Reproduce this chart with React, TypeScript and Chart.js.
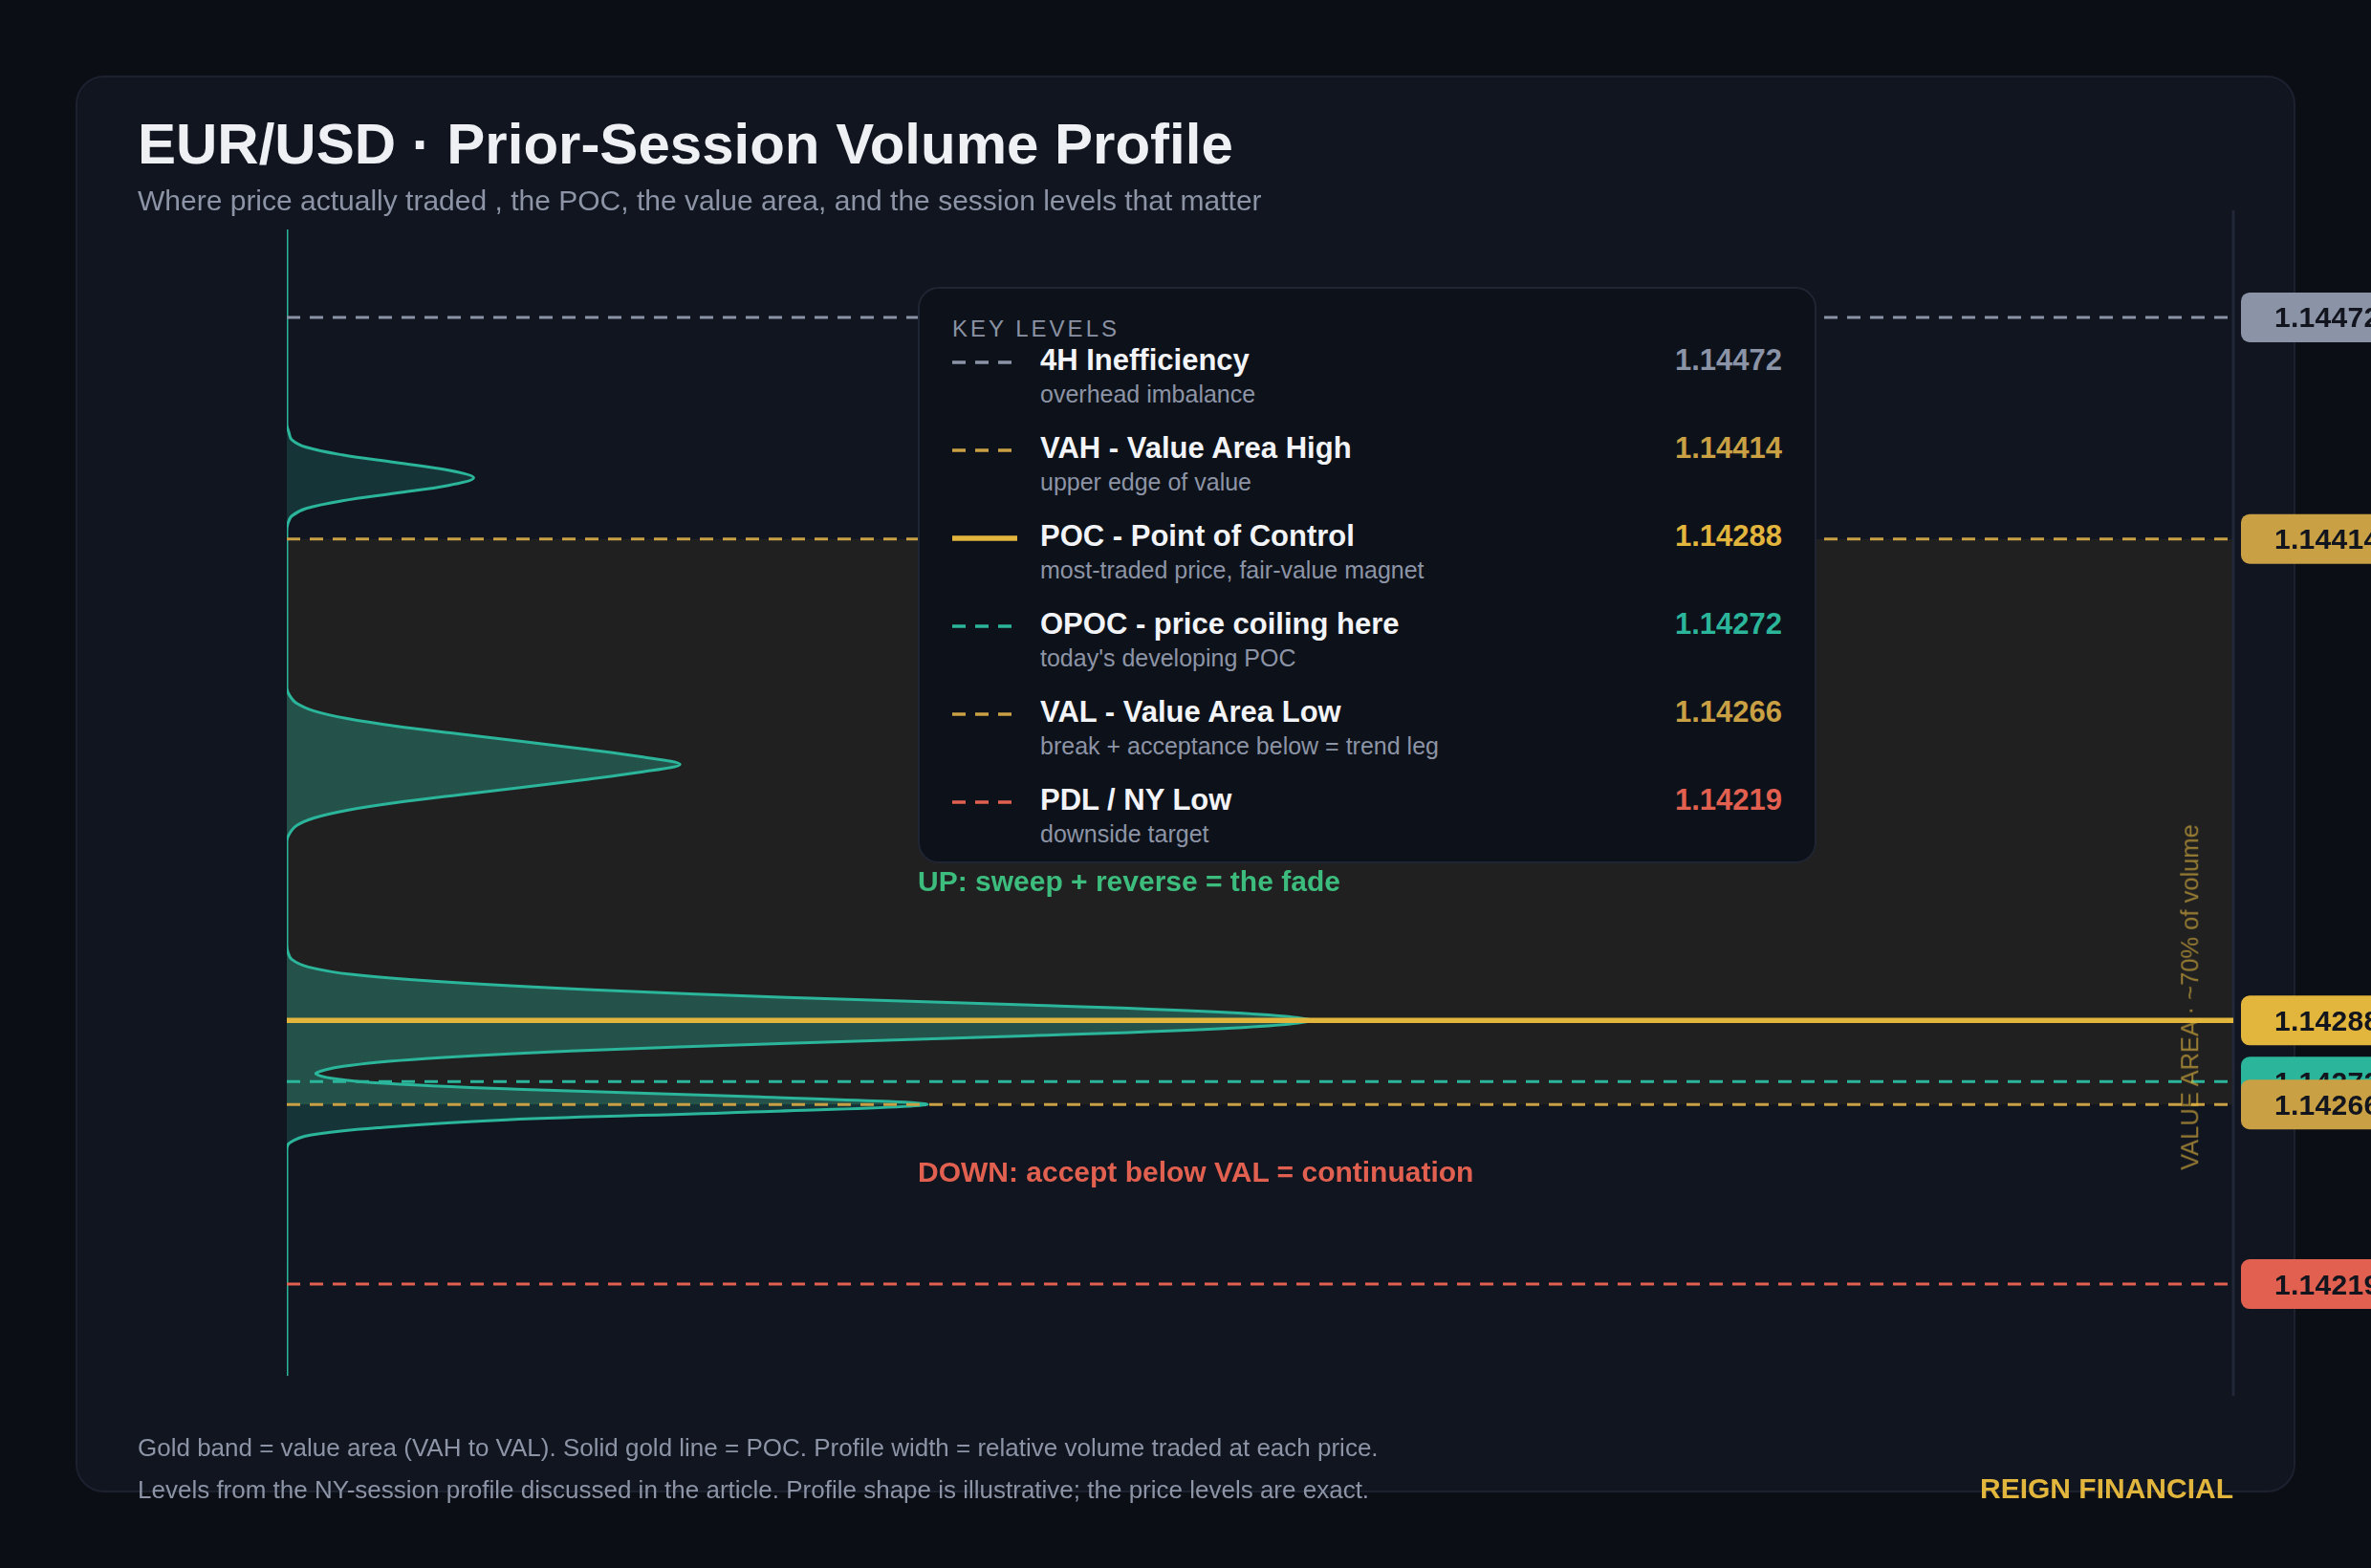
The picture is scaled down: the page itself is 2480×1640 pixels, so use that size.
import React, { useEffect, useRef } from 'react';
import { Chart, registerables } from 'chart.js';

Chart.register(...registerables);

const FONT = '"Liberation Sans", Arial, Helvetica, sans-serif';

// ---- Key levels ----
const levelNames = [
  '4H Inefficiency',
  'VAH - Value Area High',
  'POC - Point of Control',
  'OPOC - price coiling here',
  'VAL - Value Area Low',
  'PDL / NY Low',
];
const levelNotes = [
  'overhead imbalance',
  'upper edge of value',
  'most-traded price, fair-value magnet',
  "today's developing POC",
  'break + acceptance below = trend leg',
  'downside target',
];
const levelPrices = [1.14472, 1.14414, 1.14288, 1.14272, 1.14266, 1.14219];
const levelColors = ['#8b93a7', '#c9a043', '#e2b53d', '#2bb59a', '#c9a043', '#e2604f'];
const levelDashed = [true, true, false, true, true, true];

const valueAreaHigh = 1.14414;
const valueAreaLow = 1.14266;

// ---- Volume profile (price -> relative volume) ----
const profilePrices = [
  1.14495, 1.14444, 1.14442, 1.1444, 1.14438, 1.14436, 1.14434, 1.14432, 1.1443, 1.14428,
  1.14426, 1.14424, 1.14422, 1.1442, 1.14418, 1.14416,
  1.14375, 1.14373, 1.14371, 1.14369, 1.14367, 1.14365, 1.14363, 1.14361, 1.14359, 1.14357,
  1.14355, 1.14353, 1.14351, 1.14349, 1.14347, 1.14345, 1.14343, 1.14341, 1.14339, 1.14337,
  1.14335,
  1.14308, 1.14306, 1.14304, 1.14302, 1.143, 1.14298, 1.14296, 1.14294, 1.14292, 1.1429,
  1.14288, 1.14286, 1.14284, 1.14282, 1.1428, 1.14278, 1.14276, 1.14274, 1.14272, 1.1427,
  1.14268, 1.14266, 1.14264, 1.14262, 1.1426, 1.14258, 1.14256, 1.14254,
  1.14195,
];
const profileVolumes = [
  0, 0, 0.1, 0.25, 1.0, 2.85, 5.6, 8.3, 9.6, 8.3,
  5.6, 2.85, 1.0, 0.25, 0.05, 0,
  0, 0.15, 0.5, 1.4, 3.1, 5.6, 8.8, 12.1, 15.3, 18.2,
  20.2, 18.2, 15.3, 12.1, 8.8, 5.6, 3.1, 1.4, 0.5, 0.15,
  0,
  0, 0.05, 0.25, 1.1, 3.4, 8.3, 15.7, 25.7, 38.3, 48.6,
  52.7, 48.6, 38.3, 25.7, 14.6, 7.1, 2.9, 1.5, 3.7, 11.8,
  24.3, 32.9, 23.6, 11.3, 4.9, 1.2, 0.15, 0,
  0,
];

const priceMin = 1.14195;
const priceMax = 1.14495;
const volumeMin = 0;
const volumeMax = 100;

const titleText = 'EUR/USD · Prior-Session Volume Profile';
const subtitleText =
  'Where price actually traded , the POC, the value area, and the session levels that matter';
const upText = 'UP: sweep + reverse = the fade';
const downText = 'DOWN: accept below VAL = continuation';
const valueAreaText = 'VALUE AREA · ~70% of volume';
const footer1 =
  'Gold band = value area (VAH to VAL). Solid gold line = POC. Profile width = relative volume traded at each price.';
const footer2 =
  'Levels from the NY-session profile discussed in the article. Profile shape is illustrative; the price levels are exact.';
const brandText = 'REIGN FINANCIAL';

type TProps = {
  x: number;
  baseline: number;
  size: number;
  weight?: number;
  color: string;
  align?: 'left' | 'right';
  ls?: number;
  children: React.ReactNode;
};

function T({ x, baseline, size, weight = 400, color, align = 'left', ls = 0, children }: TProps) {
  const top = baseline - 0.8465 * size;
  const style: React.CSSProperties = {
    position: 'absolute',
    top,
    fontSize: size,
    lineHeight: `${size}px`,
    fontWeight: weight,
    color,
    whiteSpace: 'nowrap',
    letterSpacing: ls,
    fontFamily: FONT,
  };
  if (align === 'left') style.left = x;
  else style.right = 2480 - x;
  return <div style={style}>{children}</div>;
}

function Swatch({ x, y, color, dashed }: { x: number; y: number; color: string; dashed: boolean }) {
  return (
    <svg
      width={70}
      height={10}
      style={{ position: 'absolute', left: x, top: y - 5 }}
    >
      {dashed ? (
        <line x1={0} y1={5} x2={62} y2={5} stroke={color} strokeWidth={3.5} strokeDasharray="14 10" />
      ) : (
        <line x1={0} y1={5} x2={68} y2={5} stroke={color} strokeWidth={5.5} />
      )}
    </svg>
  );
}

export default function App() {
  const ref = useRef<HTMLCanvasElement>(null);

  useEffect(() => {
    const canvas = ref.current;
    if (!canvas) return;

    const bandPlugin = {
      id: 'valueBand',
      beforeDatasetsDraw(chart: any) {
        const { ctx, chartArea: a, scales } = chart;
        const y1 = scales.y.getPixelForValue(valueAreaHigh);
        const y2 = scales.y.getPixelForValue(valueAreaLow);
        ctx.save();
        ctx.fillStyle = 'rgba(224,180,60,0.075)';
        ctx.fillRect(a.left, y1, a.right - a.left, y2 - y1);
        ctx.strokeStyle = '#222838';
        ctx.lineWidth = 3;
        ctx.beginPath();
        ctx.moveTo(a.right, a.top - 20);
        ctx.lineTo(a.right, a.bottom + 21);
        ctx.stroke();
        ctx.restore();
      },
    };

    const labelPlugin = {
      id: 'priceLabels',
      afterDraw(chart: any) {
        const { ctx, chartArea: a, scales } = chart;
        ctx.save();
        levelPrices.forEach((p, i) => {
          const yy = scales.y.getPixelForValue(p);
          ctx.fillStyle = levelColors[i];
          ctx.beginPath();
          ctx.roundRect(a.right + 8, yy - 26, 180, 52, 9);
          ctx.fill();
          ctx.fillStyle = '#12151d';
          ctx.font = `bold 30px ${FONT}`;
          try {
            (ctx as any).letterSpacing = '0.3px';
          } catch (e) {}
          ctx.textBaseline = 'alphabetic';
          ctx.textAlign = 'left';
          ctx.fillText(p.toFixed(5), a.right + 43, yy + 10.5);
        });
        ctx.restore();
      },
    };

    const levelDatasets = levelPrices.map((p, i) => ({
      label: levelNames[i],
      data: [
        { x: volumeMin, y: p },
        { x: volumeMax, y: p },
      ],
      showLine: true,
      borderColor: levelColors[i],
      borderWidth: levelDashed[i] ? 3 : 5.5,
      borderDash: levelDashed[i] ? [14, 10] : [],
      pointRadius: 0,
      fill: false,
      order: 1,
    }));

    const profileDataset = {
      label: 'Volume profile',
      data: profilePrices.map((p, i) => ({ x: profileVolumes[i], y: p })),
      showLine: true,
      borderColor: '#2bb59a',
      borderWidth: 3,
      pointRadius: 0,
      tension: 0.35,
      fill: 'shape',
      order: 2,
      backgroundColor: (c: any) => {
        const chart = c.chart;
        const a = chart.chartArea;
        if (!a || !chart.scales.y) return 'rgba(43,181,154,0.2)';
        const y = chart.scales.y;
        const g = chart.ctx.createLinearGradient(0, a.top, 0, a.bottom);
        const h = a.bottom - a.top;
        const f1 = Math.min(1, Math.max(0, (y.getPixelForValue(valueAreaHigh) - a.top) / h));
        const f2 = Math.min(1, Math.max(0, (y.getPixelForValue(valueAreaLow) - a.top) / h));
        const out = 'rgba(43,181,154,0.2)';
        const inn = 'rgba(43,181,154,0.34)';
        g.addColorStop(0, out);
        g.addColorStop(f1, out);
        g.addColorStop(f1, inn);
        g.addColorStop(f2, inn);
        g.addColorStop(f2, out);
        g.addColorStop(1, out);
        return g;
      },
    };

    const chart = new Chart(canvas, {
      type: 'scatter',
      data: { datasets: [...levelDatasets, profileDataset] as any },
      options: {
        animation: false,
        responsive: false,
        devicePixelRatio: 1,
        events: [],
        layout: { padding: { left: 300, right: 144, top: 240, bottom: 201 } },
        scales: {
          x: { type: 'linear', min: volumeMin, max: volumeMax, display: false },
          y: { type: 'linear', min: priceMin, max: priceMax, display: false },
        },
        plugins: {
          legend: { display: false },
          tooltip: { enabled: false },
        },
      } as any,
      plugins: [bandPlugin, labelPlugin],
    });

    return () => chart.destroy();
  }, []);

  const rowBase = 387;
  const rowStep = 92;

  return (
    <div
      style={{
        position: 'absolute',
        left: 0,
        top: 0,
        width: 2480,
        height: 1640,
        background: '#0b0e15',
        overflow: 'hidden',
        fontFamily: FONT,
      }}
    >
      <div
        style={{
          position: 'absolute',
          left: 79,
          top: 79,
          width: 2322,
          height: 1482,
          boxSizing: 'border-box',
          border: '2px solid #1c2130',
          borderRadius: 30,
          background: '#111520',
        }}
      />
      <canvas
        ref={ref}
        width={2480}
        height={1640}
        style={{ position: 'absolute', left: 0, top: 0, width: 2480, height: 1640 }}
      />

      <T x={144} baseline={172} size={60} weight={700} color="#eef0f4">
        {titleText}
      </T>
      <T x={144} baseline={220} size={30} color="#8c94a6">
        {subtitleText}
      </T>

      {/* Key levels box */}
      <div
        style={{
          position: 'absolute',
          left: 960,
          top: 300,
          width: 940,
          height: 603,
          boxSizing: 'border-box',
          background: '#0d1119',
          border: '2px solid #1f2533',
          borderRadius: 22,
        }}
      />
      <T x={996} baseline={352} size={24} color="#8a92a4" ls={3}>
        KEY LEVELS
      </T>
      {levelNames.map((name, i) => {
        const b = rowBase + rowStep * i;
        return (
          <React.Fragment key={name}>
            <Swatch x={996} y={b - 8} color={levelColors[i]} dashed={levelDashed[i]} />
            <T x={1088} baseline={b} size={31} weight={700} color="#f2f4f7">
              {name}
            </T>
            <T x={1088} baseline={b + 34} size={25} color="#8c94a6">
              {levelNotes[i]}
            </T>
            <T x={1864} baseline={b} size={31} weight={700} color={levelColors[i]} align="right">
              {levelPrices[i].toFixed(5)}
            </T>
          </React.Fragment>
        );
      })}

      <T x={960} baseline={932} size={30} weight={700} color="#3dbd7d">
        {upText}
      </T>
      <T x={960} baseline={1236} size={30} weight={700} color="#e2604f">
        {downText}
      </T>

      <div
        style={{
          position: 'absolute',
          left: 2291,
          top: 1043,
          transform: 'translate(-50%, -50%) rotate(-90deg)',
          fontSize: 25.5,
          lineHeight: '25.5px',
          whiteSpace: 'nowrap',
          color: 'rgba(224,180,60,0.62)',
          fontFamily: FONT,
        }}
      >
        {valueAreaText}
      </div>

      <T x={144} baseline={1523} size={26} color="#8c94a6">
        {footer1}
      </T>
      <T x={144} baseline={1567} size={26} color="#8c94a6">
        {footer2}
      </T>
      <T x={2336} baseline={1567} size={30} weight={700} color="#e2b53d" align="right">
        {brandText}
      </T>
    </div>
  );
}
